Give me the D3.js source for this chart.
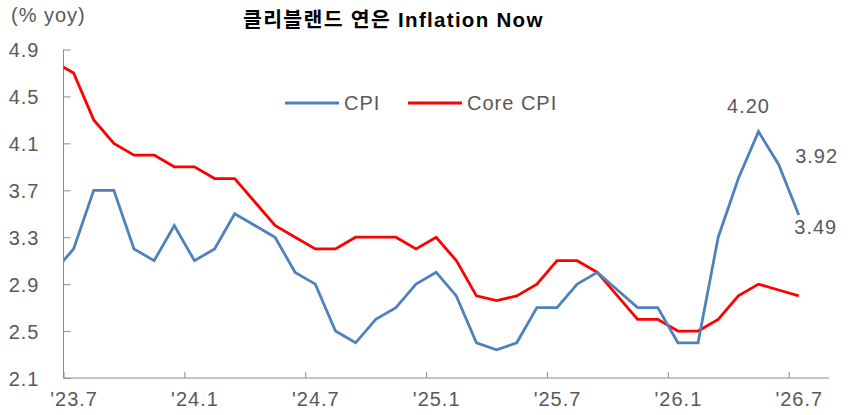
<!DOCTYPE html>
<html>
<head>
<meta charset="utf-8">
<script src="https://cdn.jsdelivr.net/npm/d3@7"></script>
<style>
  body { margin: 0; background: #fff; }
  text { font-family: "Liberation Sans", Arial, sans-serif; letter-spacing: 1px; }
</style>
</head>
<body>
<div id="container"></div>
<script>
// chart size
let w = 866;
let h = 415;

// monthly categories ('23.6 sits just left of the axis and gets clipped)
let months = ["23.6","23.7","23.8","23.9","23.10","23.11","23.12",
  "24.1","24.2","24.3","24.4","24.5","24.6","24.7","24.8","24.9","24.10","24.11","24.12",
  "25.1","25.2","25.3","25.4","25.5","25.6","25.7","25.8","25.9","25.10","25.11","25.12",
  "26.1","26.2","26.3","26.4","26.5","26.6","26.7"];

let cpi = [3.0, 3.2, 3.7, 3.7, 3.2, 3.1, 3.4, 3.1, 3.2, 3.5, 3.4, 3.3, 3.0,
  2.9, 2.5, 2.4, 2.6, 2.7, 2.9, 3.0, 2.8, 2.4, 2.34, 2.4, 2.7, 2.7,
  2.9, 3.0, 2.85, 2.7, 2.7, 2.4, 2.4, 3.3, 3.8, 4.20, 3.92, 3.49];

let coreCpi = [4.8, 4.7, 4.3, 4.1, 4.0, 4.0, 3.9, 3.9, 3.8, 3.8, 3.6, 3.4, 3.3,
  3.2, 3.2, 3.3, 3.3, 3.3, 3.2, 3.3, 3.1, 2.8, 2.76, 2.8, 2.9, 3.1,
  3.1, 3.0, 2.8, 2.6, 2.6, 2.5, 2.5, 2.6, 2.8, 2.9, 2.85, 2.8];

let yTicks = [2.1, 2.5, 2.9, 3.3, 3.7, 4.1, 4.5, 4.9];
let xTickLabels = ["'23.7", "'24.1", "'24.7", "'25.1", "'25.7", "'26.1", "'26.7"];

// labels for the last three CPI points
let endLabels = [
  {i: 35, text: "4.20", dx: -10, dy: -26},
  {i: 36, text: "3.92", dx: 38, dy: -8},
  {i: 37, text: "3.49", dx: 17, dy: 12}
];

let gray = "#595959";
let axisGray = "#8c8c8c";

let viz = d3.select("#container")
  .append("svg")
    .attr("width", w)
    .attr("height", h)
    .style("background-color", "white");

// months since '23.7 -> x; data points sit in the middle of each month
let xScale = d3.scaleLinear().domain([0, 38]).range([63.5, 829]);
let yScale = d3.scaleLinear().domain([2.1, 4.9]).range([378, 49.5]);

function getX(d, i) {
  return xScale(i - 1 + 0.5);
}

// clip lines to the plot area
viz.append("clipPath").attr("id", "plotclip")
  .append("rect")
    .attr("x", xScale(0))
    .attr("y", 0)
    .attr("width", xScale(38) - xScale(0))
    .attr("height", h);

// y axis
let yAxis = d3.axisLeft(yScale)
  .tickValues(yTicks)
  .tickSize(-7)
  .tickFormat(d3.format(".1f"));

let yg = viz.append("g")
  .attr("transform", "translate(" + xScale(0) + ",0)")
  .call(yAxis);
yg.selectAll("line").attr("stroke", axisGray);
yg.select(".domain").attr("stroke", axisGray).attr("d", "M0," + yScale(4.9) + "V" + yScale(2.1));
yg.selectAll("text")
  .attr("x", -24)
  .attr("dy", "0.35em")
  .attr("fill", gray)
  .style("font-size", "20px");

// x axis: ticks every six months, labels centred on the month
let xAxis = d3.axisBottom(xScale)
  .tickValues([0, 6, 12, 18, 24, 30, 36])
  .tickSize(-6)
  .tickFormat((d, i) => xTickLabels[i]);

let xg = viz.append("g")
  .attr("transform", "translate(0," + yScale(2.1) + ")")
  .call(xAxis);
xg.selectAll("line").attr("stroke", axisGray);
xg.select(".domain").attr("stroke", axisGray).attr("d", "M" + xScale(0) + ",0H" + xScale(38));
xg.selectAll("text")
  .attr("x", xScale(0.5) - xScale(0))
  .attr("y", 14)
  .attr("fill", gray)
  .style("font-size", "20px");

// lines
let line = d3.line()
  .x(getX)
  .y(d => yScale(d));

let lines = viz.append("g").attr("clip-path", "url(#plotclip)");

lines.append("path")
  .datum(coreCpi)
  .attr("d", line)
  .attr("fill", "none")
  .attr("stroke", "#ff0000")
  .attr("stroke-width", 2.8)
  .attr("stroke-linejoin", "miter");

lines.append("path")
  .datum(cpi)
  .attr("d", line)
  .attr("fill", "none")
  .attr("stroke", "#4f81bd")
  .attr("stroke-width", 2.8)
  .attr("stroke-linejoin", "miter");

// point labels
viz.selectAll(".endlabel").data(endLabels).enter()
  .append("text")
    .attr("class", "endlabel")
    .attr("x", d => xScale(d.i - 0.5) + d.dx)
    .attr("y", d => yScale(cpi[d.i]) + d.dy)
    .attr("text-anchor", "middle")
    .attr("dy", "0.35em")
    .attr("fill", gray)
    .style("font-size", "20px")
    .text(d => d.text);

// legend
let legend = [
  {name: "CPI", color: "#4f81bd", x: 285},
  {name: "Core CPI", color: "#ff0000", x: 408}
];
let lg = viz.selectAll(".legend").data(legend).enter()
  .append("g")
    .attr("class", "legend")
    .attr("transform", d => "translate(" + d.x + ",103)");
lg.append("line")
  .attr("x1", 0).attr("x2", 54)
  .attr("stroke", d => d.color)
  .attr("stroke-width", 2.8);
lg.append("text")
  .attr("x", 59)
  .attr("dy", "0.35em")
  .attr("fill", gray)
  .style("font-size", "20px")
  .text(d => d.name);

// unit and title
viz.append("text")
  .attr("x", 11)
  .attr("y", 22)
  .attr("fill", gray)
  .style("font-size", "20px")
  .text("(% yoy)");

viz.append("text")
  .attr("x", 243)
  .attr("y", 27)
  .attr("fill", "#000")
  .style("font-family", "'Liberation Sans', 'Noto Sans CJK KR', sans-serif")
  .style("font-weight", "bold")
  .style("font-size", "20.5px")
  .style("letter-spacing", "1.3px")
  .text("클리블랜드 연은 Inflation Now");
</script>
</body>
</html>
